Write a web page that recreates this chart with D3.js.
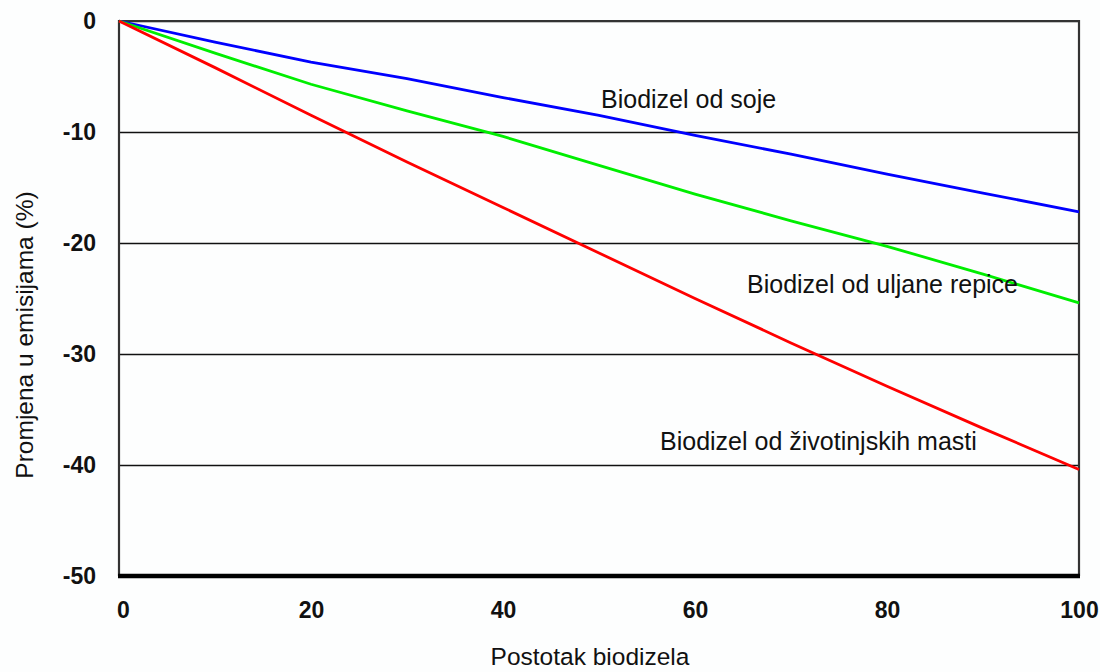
<!DOCTYPE html>
<meta charset="utf-8">
<html>
<head>
	<script src="https://d3js.org/d3.v7.min.js"></script>
	<style>
		body { margin: 0; background: #fdfefe; }
		text { font-family: "Liberation Sans", Arial, sans-serif; fill: #111; }
	</style>
</head>
<body>

<div id="grafico"></div>

<script>

// postotak biodizela
var postotak = [0, 10, 20, 30, 40, 50, 60, 70, 80, 90, 100];
// promjena u emisijama (%)
var soja   = [0, -1.9, -3.7, -5.2, -6.9, -8.5, -10.3, -12.0, -13.8, -15.5, -17.2];
var repica = [0, -2.9, -5.7, -8.1, -10.4, -13.0, -15.6, -18.0, -20.3, -22.8, -25.4];
var mast   = [0, -4.2, -8.5, -12.7, -16.8, -20.9, -25.0, -29.0, -32.9, -36.7, -40.4];

var xTicks = [0, 20, 40, 60, 80, 100];
var yTicks = [0, -10, -20, -30, -40, -50];

var serije = [
	{ ime: "Biodizel od soje", vrijednosti: soja, boja: "#0000ff", lx: 601, ly: 108 },
	{ ime: "Biodizel od uljane repice", vrijednosti: repica, boja: "#00ee00", lx: 747, ly: 293 },
	{ ime: "Biodizel od životinjskih masti", vrijednosti: mast, boja: "#ff0000", lx: 660, ly: 450 }
];

var W = 1100, H = 672;
var margin = {top: 21, right: 21, bottom: 96, left: 119};
var width = W - margin.left - margin.right;
var height = H - margin.top - margin.bottom;

var svg = d3.select("#grafico")
  .append("svg")
    .attr("width", W)
    .attr("height", H)
  .append("g")
    .attr("transform", "translate(" + margin.left + "," + margin.top + ")");

var x = d3.scaleLinear().domain([0, 100]).range([0, width]);
var y = d3.scaleLinear().domain([0, -50]).range([0, height]);

// mreza + oznake na y osi
var yOs = svg.append("g")
  .call(d3.axisLeft(y).tickValues(yTicks).tickSize(-width).tickPadding(23)
    .tickFormat(function(d) { return String(d); }));
yOs.select(".domain").remove();
yOs.selectAll(".tick line").attr("stroke", "#111").attr("stroke-width", 1.6);
yOs.selectAll(".tick text")
  .style("font-size", "23px").style("font-weight", "bold").attr("fill", "#111");

// x os
var xOs = svg.append("g")
  .attr("transform", "translate(0," + height + ")")
  .call(d3.axisBottom(x).tickValues(xTicks).tickSize(0).tickPadding(26)
    .tickFormat(function(d) { return String(d); }));
xOs.select(".domain").remove();
xOs.selectAll(".tick text")
  .attr("dx", function(d) { return d === 0 ? 4 : 0; })
  .style("font-size", "23px").style("font-weight", "bold").attr("fill", "#111");

// okvir
svg.append("path")
  .attr("d", "M0," + height + "V0H" + width + "V" + height)
  .attr("fill", "none").attr("stroke", "#333").attr("stroke-width", 2.2);
svg.append("line")
  .attr("x1", -1).attr("x2", width + 1)
  .attr("y1", y(-50)).attr("y2", y(-50))
  .attr("stroke", "#000").attr("stroke-width", 4.5);

// linije
var linija = d3.line()
  .x(function(d, i) { return x(postotak[i]); })
  .y(function(d) { return y(d); });

svg.selectAll("path.serija")
  .data(serije)
  .enter()
  .append("path")
  .attr("class", "serija")
  .attr("d", function(d) { return linija(d.vrijednosti); })
  .attr("fill", "none")
  .attr("stroke", function(d) { return d.boja; })
  .attr("stroke-width", 2.8);

// natpisi serija
svg.selectAll("text.natpis")
  .data(serije)
  .enter()
  .append("text")
  .attr("class", "natpis")
  .attr("x", function(d) { return d.lx - margin.left; })
  .attr("y", function(d) { return d.ly - margin.top; })
  .style("font-size", "25px")
  .text(function(d) { return d.ime; });

// naslovi osi
svg.append("text")
  .attr("x", 590 - margin.left)
  .attr("y", 665 - margin.top)
  .attr("text-anchor", "middle")
  .style("font-size", "24.5px")
  .text("Postotak biodizela");

svg.append("text")
  .attr("transform", "translate(" + (33 - margin.left) + "," + (335 - margin.top) + ") rotate(-90)")
  .attr("text-anchor", "middle")
  .style("font-size", "24.5px")
  .text("Promjena u emisijama (%)");

</script>

</body>
</html>
